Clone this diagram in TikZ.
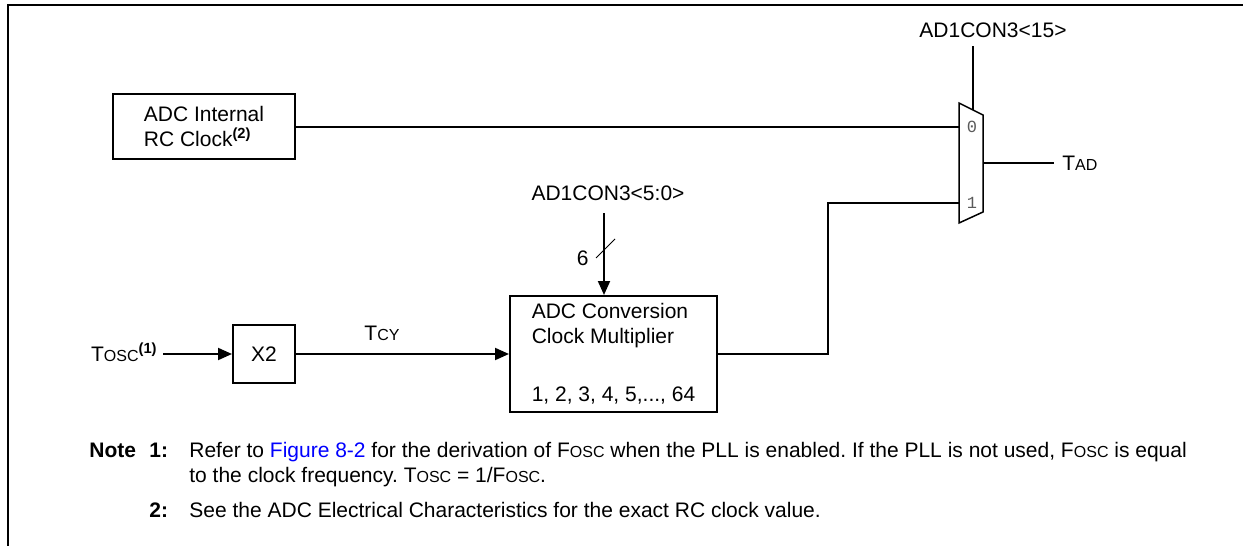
\documentclass[tikz,border=0pt]{standalone}
\usepackage{fontspec}
\setmainfont{Liberation Sans}
\newfontfamily\muxfont{Liberation Mono}
\usetikzlibrary{arrows.meta,positioning}
\definecolor{linkblue}{RGB}{0,0,255}
\definecolor{muxgray}{RGB}{90,90,90}
\newcommand{\sml}[1]{{\fontsize{8}{9}\selectfont #1}}
\frenchspacing
\tikzset{
	blk/.style={draw,line width=1pt,align=left,inner sep=0pt},
	wire/.style={line width=1pt},
	arr/.style={wire,-{Triangle[length=7pt,width=6pt]}},
	lbl/.style={inner sep=2.5pt},
	notetxt/.style={inner sep=0pt,anchor=base west},
	muxlbl/.style={inner sep=0pt,text=muxgray,font=\muxfont\fontsize{8.5}{9}\selectfont},
}

\begin{document}
\begin{tikzpicture}[x=0.5pt,y=-0.5pt,font=\fontsize{10.5}{12.5}\selectfont]
	
	\useasboundingbox (0,0) rectangle (1243,546);
	\draw[line width=1pt] (8,546) -- (8,5) -- (1243,5);
	
	\node[blk,minimum width=91pt,minimum height=32.5pt] (rc) at (204,126.5) {ADC Internal\\RC Clock\textsuperscript{\textbf{(2)}}};
	\node[blk,minimum width=31pt,minimum height=29pt] (dbl) at (264,354) {X2};
	\node[blk,minimum width=103.5pt,minimum height=58pt] (mult) at (613.5,354) {ADC Conversion\\Clock Multiplier\\[16.5pt]1, 2, 3, 4, 5,..., 64};
	
	\draw[line width=0.75pt] (959,103) -- (983,115) -- (983,212) -- (959,223) -- cycle;
	\coordinate (in0) at (959,126.5);
	\coordinate (in1) at (959,203);
	\coordinate (mout) at (983,163);
	\coordinate (msel) at (973,110);
	\node[muxlbl] (zero) at (972,127) {0};
	\node[muxlbl] (one) at (972,203) {1};
	
	\node[lbl] (sel15) at (993,30) {AD1CON3<15>};
	\coordinate (seltop) at (973,46);
	\draw[wire] (seltop) -- (msel);
	
	\node[lbl,anchor=west,inner sep=4pt] (tad) at (1054,163) {T\sml{AD}};
	\draw[wire] (mout) -- (tad.west);
	\draw[wire] (rc.east) -- (in0);
	
	\node[lbl,anchor=base east] (tosc) at (163,361.5) {T\sml{OSC}\textsuperscript{\textbf{(1)}}};
	\draw[arr] (tosc.east |- dbl.west) -- (dbl.west);
	\node[lbl] (tcy) at (382,333) {T\sml{CY}};
	\draw[arr] (dbl.east) -- (mult.west);
	
	\node[lbl] (sel50) at (608,193) {AD1CON3<5:0>};
	\coordinate (bus) at (604,213);
	\draw[arr] (bus) -- (bus |- mult.north);
	\draw[line width=0.5pt] (596,258) -- (615,239);
	\node[lbl,anchor=east] (bits) at (594,258) {6};
	
	\coordinate (bend) at (828,203);
	\draw[wire] (mult.east) -| (bend) -- (in1);
	
	\node[notetxt] (note) at (89,457.5) {\textbf{Note}};
	\node[notetxt] (n1) at (149,457.5) {\textbf{1:}};
	\node[notetxt] (t1) at (189,457.5) {Refer to \textcolor{linkblue}{Figure 8-2} for the derivation of F\sml{OSC} when the PLL is enabled. If the PLL is not used, F\sml{OSC} is equal};
	\node[notetxt] (t1b) at (189,482.5) {to the clock frequency. T\sml{OSC} = 1/F\sml{OSC}.};
	\node[notetxt] (n2) at (149,517.5) {\textbf{2:}};
	\node[notetxt] (t2) at (189,517.5) {See the ADC Electrical Characteristics for the exact RC clock value.};
	
\end{tikzpicture}
\end{document}
